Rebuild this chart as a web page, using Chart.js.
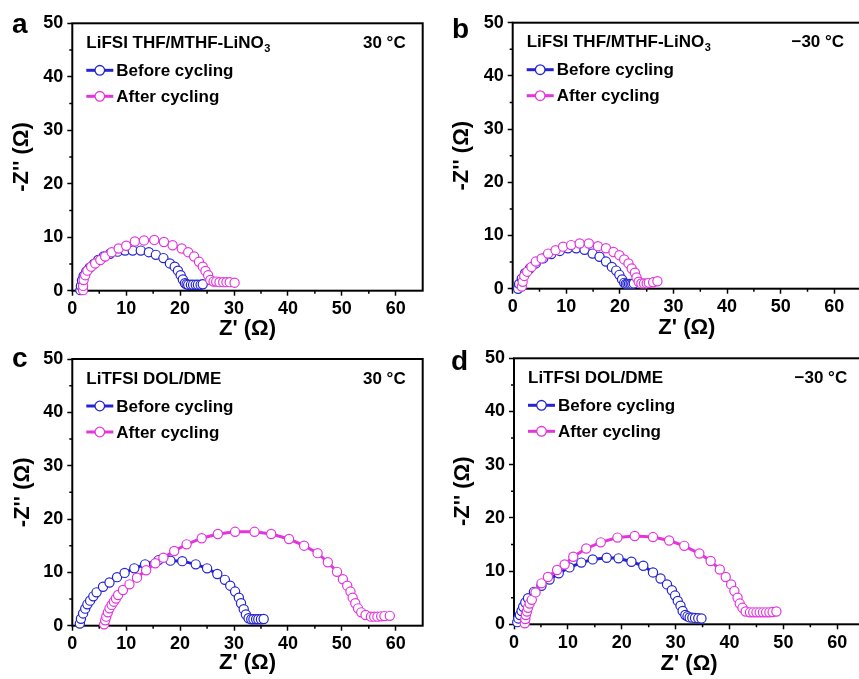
<!DOCTYPE html>
<html>
<head>
<meta charset="utf-8">
<script src="https://cdn.jsdelivr.net/npm/chart.js@4/dist/chart.umd.min.js"></script>
<style>
html,body{margin:0;padding:0;background:#fff;width:859px;height:679px;overflow:hidden;position:relative;}
canvas{position:absolute;}
</style>
</head>
<body>
<canvas id="ca"></canvas>
<canvas id="cb"></canvas>
<canvas id="cc"></canvas>
<canvas id="cd"></canvas>
<script>
// ---------- DATA (Z' , -Z'' in ohm) ----------
const seriesNames = ['Before cycling', 'After cycling'];
const panelLetters = ['a', 'b', 'c', 'd'];
const panelTitles = ['LiFSI THF/MTHF-LiNO', 'LiFSI THF/MTHF-LiNO', 'LiTFSI DOL/DME', 'LiTFSI DOL/DME'];
const panelTitleSubs = ['3', '3', '', ''];
const panelTemps = ['30 \u00B0C', '\u221230 \u00B0C', '30 \u00B0C', '\u221230 \u00B0C'];
const xTitle = "Z' (\u03A9)";
const yTitle = "-Z'' (\u03A9)";
const xRange = [0, 65];
const yRange = [0, 50];

const aBefore = [[1.5,0.1],[1.6,0.9],[1.8,1.9],[2.1,2.75],[2.6,3.6],[3.2,4.3],[4.0,5.0],[4.8,5.75],[5.8,6.4],[7.0,6.9],[8.4,7.3],[9.8,7.5],[11.2,7.5],[12.7,7.5],[14.2,7.2],[15.5,6.7],[16.9,6.1],[18.1,5.1],[19.0,4.5],[19.6,3.75],[20.1,2.9],[20.5,2.1],[20.9,1.4],[21.2,1.2],[21.5,1.1],[22.0,1.1],[22.4,1.1],[22.9,1.1],[23.3,1.1],[23.8,1.1],[24.2,1.2]];
const aAfter = [[2.0,0.1],[2.0,0.9],[2.1,2.0],[2.4,2.9],[2.8,3.75],[3.5,4.5],[4.25,5.1],[5.2,5.75],[6.1,6.4],[7.3,7.2],[8.6,7.9],[10.0,8.4],[11.6,9.2],[13.3,9.4],[15.2,9.5],[17.0,9.1],[18.6,8.5],[20.3,7.9],[21.5,7.2],[22.6,6.4],[23.5,5.4],[24.2,4.5],[24.7,3.7],[25.2,2.9],[25.6,2.0],[26.2,1.7],[26.7,1.7],[27.3,1.6],[28.0,1.6],[28.6,1.6],[29.2,1.6],[30.1,1.5]];
const bBefore = [[1.0,0.0],[1.2,0.9],[1.7,1.9],[2.3,2.9],[3.2,3.8],[4.3,4.75],[5.7,5.7],[7.2,6.5],[8.8,7.1],[10.3,7.6],[11.85,7.6],[13.4,7.3],[14.9,6.6],[16.2,6.0],[17.4,5.1],[18.5,4.1],[19.3,3.4],[19.9,2.6],[20.4,1.75],[20.8,1.1],[21.1,0.9],[21.4,0.9],[21.7,0.9],[22.0,0.9],[22.3,0.9],[22.6,1.0]];
const bAfter = [[1.7,0.4],[1.85,1.3],[2.15,2.4],[2.7,3.2],[3.5,4.1],[4.3,5.1],[5.4,5.7],[6.6,6.6],[8.0,7.25],[9.4,7.9],[10.9,8.2],[12.5,8.5],[14.2,8.5],[15.9,8.0],[17.4,7.6],[18.8,6.9],[19.9,6.3],[20.8,5.5],[21.6,4.75],[22.2,3.8],[22.8,3.0],[23.1,2.1],[23.5,1.3],[24.0,1.0],[24.5,1.0],[25.0,1.0],[25.4,1.1],[26.2,1.2],[27.0,1.4]];
const cBefore = [[1.4,0.4],[1.6,1.3],[2.0,2.3],[2.4,3.2],[2.8,4.0],[3.3,4.7],[3.9,5.5],[4.5,6.25],[5.7,7.3],[6.9,8.1],[8.3,9.1],[9.7,9.9],[11.5,10.75],[13.5,11.5],[16.0,12.3],[18.2,12.2],[20.4,12.1],[22.9,11.5],[25.0,10.75],[26.9,9.7],[28.3,8.6],[29.3,7.5],[30.2,6.4],[30.9,5.25],[31.3,4.2],[31.8,3.1],[32.2,2.1],[32.7,1.4],[33.2,1.2],[33.6,1.2],[34.1,1.2],[34.5,1.2],[35.0,1.2],[35.5,1.25]];
const cAfter = [[5.9,0.25],[6.1,1.0],[6.3,1.7],[6.6,2.5],[6.9,3.25],[7.3,3.9],[7.7,4.5],[8.1,5.1],[8.5,5.75],[9.4,6.7],[10.6,7.75],[12.0,9.0],[13.7,10.4],[15.4,11.7],[16.9,12.75],[18.9,14.0],[21.2,15.25],[24.0,16.4],[27.0,17.2],[30.2,17.6],[33.8,17.6],[36.9,17.2],[40.2,16.25],[43.0,15.0],[45.5,13.6],[47.4,11.9],[49.1,10.1],[50.2,8.7],[51.0,7.5],[51.6,6.4],[52.0,5.25],[52.5,4.2],[53.0,3.25],[53.6,2.5],[54.4,2.0],[55.4,1.7],[56.0,1.7],[56.6,1.7],[57.3,1.75],[57.9,1.8],[58.9,1.85]];
const dBefore = [[0.6,0.4],[0.8,1.1],[1.1,1.75],[1.4,2.5],[1.7,3.3],[2.1,4.1],[2.6,4.9],[3.7,6.1],[5.1,7.25],[6.6,8.4],[8.3,9.6],[10.3,10.7],[12.5,11.6],[14.6,12.2],[17.2,12.5],[19.4,12.4],[21.8,11.75],[24.0,11.0],[25.8,9.75],[27.2,8.6],[28.4,7.5],[29.3,6.4],[29.9,5.4],[30.4,4.4],[30.9,3.5],[31.3,2.5],[31.8,1.75],[32.2,1.5],[32.6,1.3],[33.1,1.25],[33.6,1.2],[34.2,1.15],[34.8,1.1]];
const dAfter = [[2.0,0.2],[2.1,1.0],[2.2,1.75],[2.4,2.4],[2.6,3.1],[2.9,3.9],[3.3,4.6],[4.0,6.0],[5.1,7.7],[6.3,8.9],[8.0,10.2],[9.4,11.25],[11.0,12.7],[13.4,14.25],[16.1,15.4],[19.2,16.3],[22.4,16.6],[25.8,16.4],[28.8,15.75],[31.6,14.75],[34.4,13.3],[36.5,11.9],[38.2,10.3],[39.3,8.9],[40.3,7.5],[40.9,6.25],[41.5,5.0],[41.9,3.9],[42.4,3.1],[43.0,2.4],[43.8,2.25],[44.4,2.25],[45.0,2.25],[45.6,2.25],[46.2,2.25],[46.8,2.25],[47.4,2.25],[48.0,2.3],[48.7,2.4]];

const panelData = [[aBefore, aAfter], [bBefore, bAfter], [cBefore, cAfter], [dBefore, dAfter]];

// ---------- STYLE / LAYOUT ----------
const FONT = '"Liberation Sans", Arial, Helvetica, sans-serif';
const BLUE = '#2424d0';
const MAG = '#e236dc';
const layouts = [
  {id:'ca', left:0,   top:0,   w:430, h:344, cl:72.3, ct:23.3, cr:422.7, cb:290.7, yt:8.8,  xb:1.8, lx:12, ly:33},
  {id:'cb', left:430, top:0,   w:440, h:344, cl:82.7, ct:22.7, cr:431.1, cb:288.7, yt:18.8, xb:3.3, lx:22, ly:38},
  {id:'cc', left:0,   top:335, w:430, h:344, cl:72.3, ct:24.0, cr:422.7, cb:290.7, yt:9.3,  xb:2.8, lx:12, ly:32},
  {id:'cd', left:430, top:335, w:440, h:344, cl:84.0, ct:23.3, cr:434.3, cb:289.3, yt:19.3, xb:2.3, lx:21, ly:35}
];

const deco = {
  id: 'deco',
  beforeDatasetsDraw(chart, args, o) {
    const {ctx, chartArea: ca, scales} = chart;
    ctx.save();
    ctx.strokeStyle = '#000';
    ctx.lineWidth = 2;
    ctx.strokeRect(ca.left, ca.top, ca.right - ca.left, ca.bottom - ca.top);
    // minor ticks
    ctx.lineWidth = 1.5;
    ctx.beginPath();
    for (let v = 5; v < xRange[1]; v += 10) {
      const px = scales.x.getPixelForValue(v);
      ctx.moveTo(px, ca.bottom); ctx.lineTo(px, ca.bottom + 3);
    }
    for (let v = 5; v < yRange[1]; v += 10) {
      const py = scales.y.getPixelForValue(v);
      ctx.moveTo(ca.left, py); ctx.lineTo(ca.left - 3, py);
    }
    ctx.stroke();
    ctx.restore();
  },
  afterDraw(chart, args, o) {
    const {ctx, chartArea: ca} = chart;
    ctx.save();
    ctx.fillStyle = '#000';
    ctx.textBaseline = 'alphabetic';
    // panel letter
    ctx.font = 'bold 28px ' + FONT;
    ctx.textAlign = 'left';
    ctx.fillText(o.letter, o.lx, o.ly);
    // title
    const x0 = ca.left + 14;
    const yb = ca.top + 24.5;
    ctx.font = 'bold 17px ' + FONT;
    ctx.fillText(o.title, x0, yb);
    if (o.sub) {
      const w = ctx.measureText(o.title).width;
      ctx.font = 'bold 11px ' + FONT;
      ctx.fillText(o.sub, x0 + w + 0.5, yb + 4);
    }
    ctx.font = 'bold 17px ' + FONT;
    ctx.textAlign = 'right';
    ctx.fillText(o.temp, ca.right - 17, yb);
    // legend
    ctx.textAlign = 'left';
    o.items.forEach((it, i) => {
      const cy = ca.top + 47 + i * 26;
      ctx.strokeStyle = it.color;
      ctx.lineWidth = 3;
      ctx.beginPath(); ctx.moveTo(x0, cy); ctx.lineTo(x0 + 27, cy); ctx.stroke();
      ctx.beginPath(); ctx.arc(x0 + 13.5, cy, 4.8, 0, Math.PI * 2);
      ctx.fillStyle = '#fff'; ctx.fill();
      ctx.lineWidth = 1.3; ctx.stroke();
      ctx.fillStyle = '#000';
      ctx.font = 'bold 17px ' + FONT;
      ctx.fillText(it.label, x0 + 30, cy + 5.5);
    });
    ctx.restore();
  }
};

function ds(label, pts, color, order) {
  return {
    label: label,
    data: pts.map(p => ({x: p[0], y: p[1]})),
    showLine: true,
    borderColor: color,
    borderWidth: 3,
    tension: 0,
    pointRadius: 4.6,
    pointBorderWidth: 1.2,
    pointBorderColor: color,
    pointBackgroundColor: '#ffffff',
    order: order,
    clip: false
  };
}

layouts.forEach((L, i) => {
  const cv = document.getElementById(L.id);
  cv.width = L.w; cv.height = L.h;
  cv.style.left = L.left + 'px'; cv.style.top = L.top + 'px';
  const [before, after] = panelData[i];
  new Chart(cv, {
    type: 'scatter',
    data: { datasets: [ ds(seriesNames[0], before, BLUE, 2), ds(seriesNames[1], after, MAG, 1) ] },
    options: {
      responsive: false,
      animation: false,
      events: [],
      layout: { padding: { top: L.ct, right: L.w - L.cr, left: 0, bottom: 0 } },
      scales: {
        x: {
          type: 'linear', min: xRange[0], max: xRange[1],
          afterFit: s => { s.height = L.h - L.cb; },
          border: { display: false },
          grid: { display: true, drawOnChartArea: false, drawTicks: true, tickLength: 5, tickWidth: 1.5, tickColor: '#000' },
          ticks: { stepSize: 10, includeBounds: false, autoSkip: false, maxRotation: 0, padding: 3, color: '#000',
                   font: { family: FONT, size: 18, weight: 'bold' } },
          title: { display: true, text: xTitle, color: '#000', font: { family: FONT, size: 22, weight: 'bold' },
                   padding: { top: 0, bottom: L.xb } }
        },
        y: {
          type: 'linear', min: yRange[0], max: yRange[1],
          afterFit: s => { s.width = L.cl; },
          border: { display: false },
          grid: { display: true, drawOnChartArea: false, drawTicks: true, tickLength: 5, tickWidth: 1.5, tickColor: '#000' },
          ticks: { stepSize: 10, includeBounds: false, autoSkip: false, padding: 4, color: '#000',
                   font: { family: FONT, size: 18, weight: 'bold' } },
          title: { display: true, text: yTitle, color: '#000', font: { family: FONT, size: 22, weight: 'bold' },
                   padding: { top: L.yt, bottom: 0 } }
        }
      },
      plugins: {
        legend: { display: false },
        tooltip: { enabled: false },
        deco: {
          letter: panelLetters[i], lx: L.lx, ly: L.ly,
          title: panelTitles[i], sub: panelTitleSubs[i], temp: panelTemps[i],
          items: [ { label: seriesNames[0], color: BLUE }, { label: seriesNames[1], color: MAG } ]
        }
      }
    },
    plugins: [deco]
  });
});
</script>
</body>
</html>
